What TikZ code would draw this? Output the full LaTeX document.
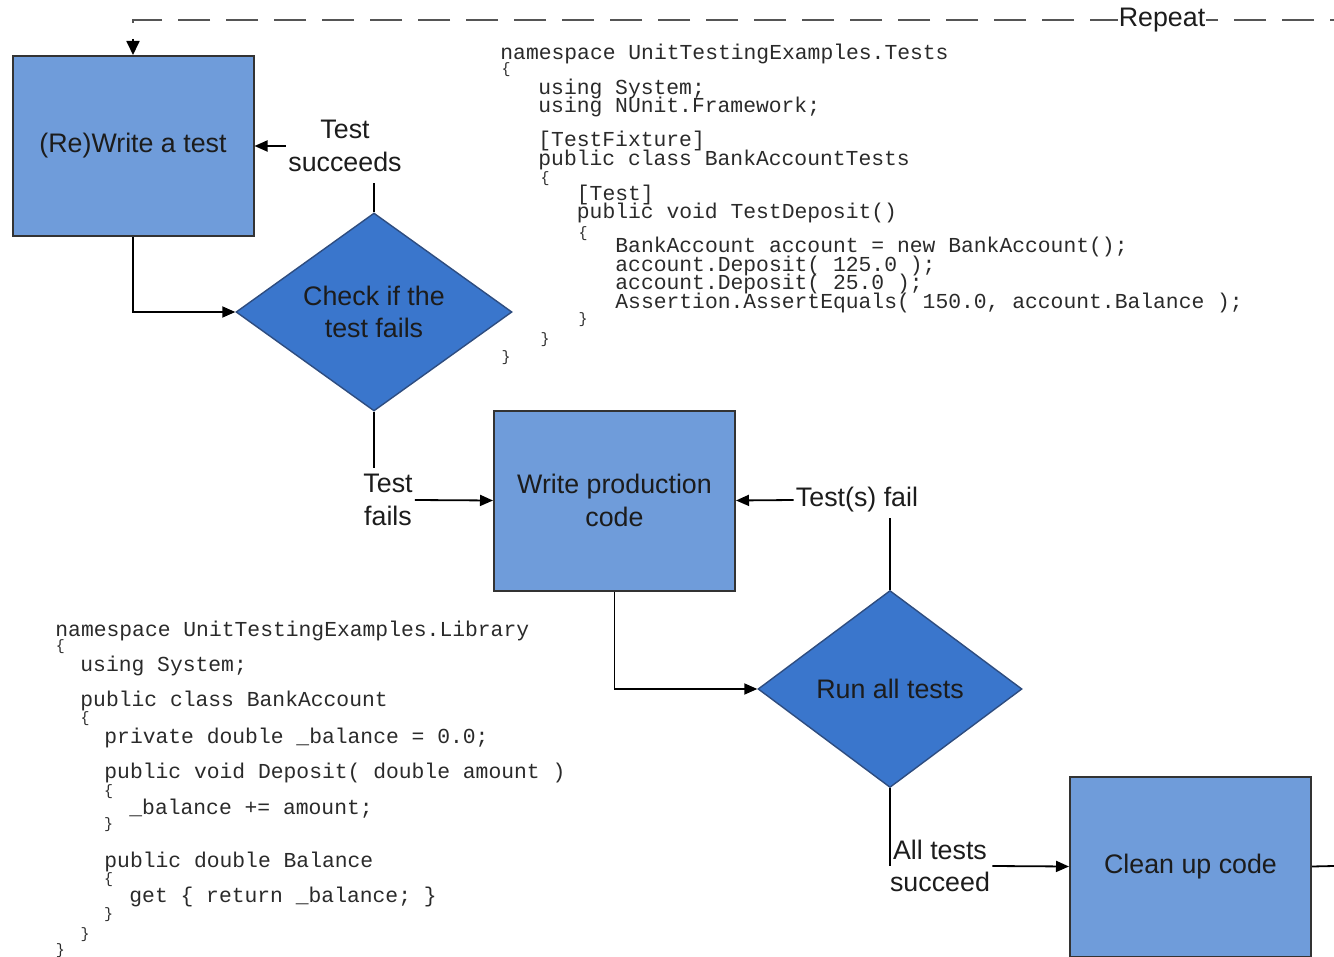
\documentclass[tikz,border=0pt]{standalone}
\usepackage{fontspec}
\setmainfont{Liberation Sans}
\newfontfamily\lsans{Liberation Sans}
\newfontfamily\lmono{Liberation Mono}
\usetikzlibrary{shapes.geometric,arrows.meta}

\definecolor{boxfill}{HTML}{6F9CDA}
\definecolor{dmdfill}{HTML}{3A76CC}
\definecolor{boxline}{HTML}{333333}
\definecolor{dmdline}{HTML}{2E4D80}
\definecolor{txt}{HTML}{1C1C1C}
\definecolor{codetxt}{HTML}{2A2A2A}
\definecolor{dashgray}{HTML}{555555}

\newcommand\lblfont{\lsans\fontsize{13.4}{16.2}\selectfont}
\newcommand\cdfont{\lmono\fontsize{10.67}{12}\selectfont}
\newcommand\brfont{\lmono\fontsize{7.5}{8}\selectfont}

\tikzset{
  proc/.style={draw=boxline, fill=boxfill, line width=1pt,
    minimum width=120.5pt, minimum height=90pt, inner sep=0pt,
    font=\lblfont, align=center, text=txt},
  decide/.style={diamond, aspect=1.4, draw=dmdline, fill=dmdfill, line width=0.7pt,
    inner sep=0pt, font=\lblfont, align=center, text=txt},
  lab/.style={font=\lblfont, align=center, inner sep=1pt, text=txt},
  code/.style={font=\cdfont, anchor=base west, inner sep=0pt, text=codetxt},
  brace/.style={font=\brfont, inner sep=0pt, text=codetxt},
  conn/.style={line width=0.9pt, draw=black},
  arr/.style={conn, -{Triangle[length=6.5pt,width=5.5pt]}},
  loopline/.style={line width=1.3pt, draw=dashgray, dash pattern=on 16pt off 8pt,
    dash phase=14pt},
  looptip/.style={line width=0.9pt, draw=black, -{Triangle[length=7pt,width=6.5pt]}},
}

\begin{document}
\begin{tikzpicture}[x=0.5pt,y=-0.5pt]
\useasboundingbox (0,0) rectangle (1334,957);
\clip (0,0) rectangle (1334,957);

% --- process boxes and decisions ---
\node[proc] (write) at (133,146) {(Re)Write a test};
\node[decide, minimum width=138pt, minimum height=99pt] (check) at (374,312) {Check if the\\test fails};
\node[proc] (prod) at (614.5,500.5) {Write production\\code};
\node[decide, minimum width=132pt, minimum height=98.5pt] (run) at (890,689) {Run all tests};
\node[proc] (clean) at (1190.5,866.5) {Clean up code};

% --- branch labels ---
\node[lab] (succ) at (345,146) {Test\\succeeds};
\node[lab] (fails) at (388,500) {Test\\fails};
\node[lab] (tfail) at (857,500) {Test(s) fail};
\node[lab] (allok) at (940,866) {All tests\\succeed};

\coordinate (succ-end) at (374,183);
\coordinate (fails-end) at (374,468);
\coordinate (tfail-end) at (890,518);
\coordinate (allok-end) at (890,866);
\coordinate (exit) at (1334,866);
\coordinate (loop-start) at (1334,20);
\coordinate (loop-drop) at (133,39);

% --- connectors ---
\draw[arr] (write.south) |- (check.west);
\draw[conn] (check.north) -- (succ-end);
\draw[arr] (succ.west) -- (write.east);
\draw[conn] (check.south) -- (fails-end);
\draw[arr] (fails.east) -- (prod.west);
\draw[arr] (prod.south) |- (run.west);
\draw[conn] (run.north) -- (tfail-end);
\draw[arr] (tfail.west) -- (prod.east);
\draw[conn] (run.south) -- (allok-end);
\draw[arr] (allok.east) -- (clean.west);
\draw[conn] (clean.east) -- (exit);

% --- repeat loop ---
\draw[loopline] (loop-start) -| (loop-drop);
\draw[looptip] (loop-drop) -- (write.north);
\node[lab, fill=white, inner sep=0.5pt, text=txt] (repeat) at (1162,20) {Repeat};

% --- test fixture listing ---
\node[code] (t1) at (500,59.5) {namespace UnitTestingExamples.Tests};
\node[brace] (tb1) at (506,70) {\{};
\node[code] (t2) at (538,94.3) {using System;};
\node[code] (t3) at (538,112.7) {using NUnit.Framework;};
\node[code] (t4) at (538,147) {[TestFixture]};
\node[code] (t5) at (538,166) {public class BankAccountTests};
\node[brace] (tb2) at (545,179) {\{};
\node[code] (t6) at (576.5,200.7) {[Test]};
\node[code] (t7) at (576.5,219) {public void TestDeposit()};
\node[brace] (tb3) at (583,234) {\{};
\node[code] (t8) at (615,253) {BankAccount account = new BankAccount();};
\node[code] (t9) at (615,271.7) {account.Deposit( 125.0 );};
\node[code] (t10) at (615,290) {account.Deposit( 25.0 );};
\node[code] (t11) at (615,309) {Assertion.AssertEquals( 150.0, account.Balance );};
\node[brace] (tb4) at (583,320) {\}};
\node[brace] (tb5) at (545,340) {\}};
\node[brace] (tb6) at (506,358) {\}};

% --- library listing ---
\node[code] (l1) at (55,636) {namespace UnitTestingExamples.Library};
\node[brace] (lb1) at (60.5,647) {\{};
\node[code] (l2) at (80,671.7) {using System;};
\node[code] (l3) at (80,706.7) {public class BankAccount};
\node[brace] (lb2) at (85,719) {\{};
\node[code] (l4) at (104,743) {private double \_balance = 0.0;};
\node[code] (l5) at (104,778) {public void Deposit( double amount )};
\node[brace] (lb3) at (108.5,792) {\{};
\node[code] (l6) at (129,814) {\_balance += amount;};
\node[brace] (lb4) at (108.5,825) {\}};
\node[code] (l7) at (104,867) {public double Balance};
\node[brace] (lb5) at (108.5,880) {\{};
\node[code] (l8) at (129,902.7) {get \{ return \_balance; \}};
\node[brace] (lb6) at (108.5,915) {\}};
\node[brace] (lb7) at (85,935) {\}};
\node[brace] (lb8) at (60.5,951) {\}};
\end{tikzpicture}
\end{document}
